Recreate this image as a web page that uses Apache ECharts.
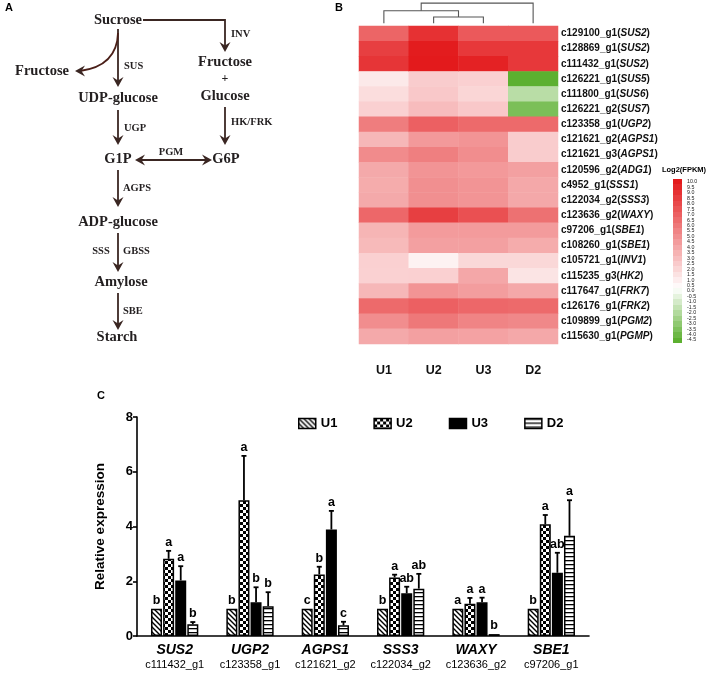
<!DOCTYPE html>
<html><head><meta charset="utf-8">
<script src="https://cdn.jsdelivr.net/npm/echarts@6/dist/echarts.min.js"></script>
<style>html,body{margin:0;padding:0;background:#fff}#c{width:708px;height:674px}</style>
</head><body><div id="c"></div>
<script>
// ---------- Panel B data (heatmap, Log2 FPKM) ----------
const heatCols = ['U1', 'U2', 'U3', 'D2'];
const rowIds = ['c129100_g1','c128869_g1','c111432_g1','c126221_g1','c111800_g1','c126221_g2','c123358_g1','c121621_g2','c121621_g3','c120596_g2','c4952_g1','c122034_g2','c123636_g2','c97206_g1','c108260_g1','c105721_g1','c115235_g3','c117647_g1','c126176_g1','c109899_g1','c115630_g1'];
const rowGenes = ['SUS2','SUS2','SUS2','SUS5','SUS6','SUS7','UGP2','AGPS1','AGPS1','ADG1','SSS1','SSS3','WAXY','SBE1','SBE1','INV1','HK2','FRK7','FRK2','PGM2','PGMP'];
const valU1 = [6.8, 8.4, 8.85, 1.2, 1.7, 2.25, 5.8, 3.3, 5.2, 3.9, 3.8, 3.9, 6.7, 3.4, 3.2, 2.25, 2.2, 3.3, 6.6, 5.1, 3.9];
const valU2 = [9.0, 9.9, 10.0, 2.4, 2.6, 3.1, 7.0, 4.6, 5.7, 4.8, 5.0, 5.0, 8.4, 4.5, 4.3, 0.8, 2.25, 4.8, 7.0, 6.0, 4.3];
const valU3 = [7.3, 8.7, 9.66, 2.25, 2.0, 2.6, 6.6, 4.8, 5.1, 4.6, 4.8, 4.8, 7.7, 4.5, 4.3, 1.9, 4.0, 4.4, 6.7, 5.5, 4.2];
const valD2 = [7.3, 8.7, 8.7, -4.5, -1.8, -3.6, 6.6, 2.4, 2.4, 4.3, 3.95, 3.95, 6.3, 4.5, 3.8, 1.9, 1.4, 3.95, 6.6, 5.3, 3.95];
const colorbarMin = -4.5, colorbarMax = 10.0, colorbarStep = 0.5;
// dendrogram merges: [leftPos, rightPos, height, leftChildHeight, rightChildHeight] (column units)
const dendro = [[1, 2, 1, 0, 0], [0, 1.5, 2, 0, 1], [0.75, 3, 3.2, 2, 0]];

// ---------- Panel C data (relative expression) ----------
const geneNames = ['SUS2','UGP2','AGPS1','SSS3','WAXY','SBE1'];
const geneIds = ['c111432_g1','c123358_g1','c121621_g2','c122034_g2','c123636_g2','c97206_g1'];
const groups = ['U1','U2','U3','D2'];
const meanU1 = [1.0, 1.0, 1.0, 1.0, 1.0, 1.0];
const meanU2 = [2.82, 4.96, 2.25, 2.14, 1.18, 4.08];
const meanU3 = [2.03, 1.23, 3.89, 1.56, 1.23, 2.31];
const meanD2 = [0.43, 1.09, 0.39, 1.73, 0.07, 3.66];
const errU1 = [1.0, 1.0, 1.0, 1.0, 1.0, 1.0];
const errU2 = [3.11, 6.58, 2.53, 2.24, 1.39, 4.42];
const errU3 = [2.55, 1.78, 4.57, 1.80, 1.40, 3.04];
const errD2 = [0.51, 1.60, 0.52, 2.27, 0.07, 4.96];
const letU1 = ['b','b','c','b','a','b'];
const letU2 = ['a','a','b','a','a','a'];
const letU3 = ['a','b','a','ab','a','ab'];
const letD2 = ['b','b','c','ab','b','a'];
const yTicks = [0, 2, 4, 6, 8];

// ---------- helpers ----------
function lerp(a, b, t) { return Math.round(a + (b - a) * t); }
function colorAt(v) {
  const g = [92, 176, 48], w = [255, 255, 255], r = [227, 26, 28];
  let c;
  if (v <= 0.25) { const t = (v - colorbarMin) / (0.25 - colorbarMin); c = g.map((x, i) => lerp(x, w[i], t)); }
  else { const t = (v - 0.25) / (colorbarMax - 0.25); c = w.map((x, i) => lerp(x, r[i], t)); }
  return 'rgb(' + c.join(',') + ')';
}
function palette() {
  const out = [];
  for (let v = colorbarMin; v <= colorbarMax + 1e-9; v += colorbarStep) out.push(colorAt(v));
  return out;
}
function colorbarStops() {
  const stops = [];
  const n = Math.round((colorbarMax - colorbarMin) / colorbarStep) + 1; // blocks
  for (let k = 0; k < n; k++) {
    const v = colorbarMax - k * colorbarStep;
    const c = colorAt(v);
    stops.push({ offset: k / n, color: c });
    stops.push({ offset: (k + 1) / n - 1e-4, color: c });
  }
  return stops;
}
function mkCanvas(w, h, draw) {
  const c = document.createElement('canvas'); c.width = w; c.height = h;
  const ctx = c.getContext('2d'); ctx.fillStyle = '#fff'; ctx.fillRect(0, 0, w, h); draw(ctx); return c;
}
const patDiag = mkCanvas(5, 5, ctx => {
  ctx.strokeStyle = '#000'; ctx.lineWidth = 1.4;
  ctx.beginPath(); ctx.moveTo(-1, -1); ctx.lineTo(6, 6); ctx.moveTo(-1, 4); ctx.lineTo(1, 6); ctx.moveTo(4, -1); ctx.lineTo(6, 1); ctx.stroke();
});
const patCheck = mkCanvas(6, 6, ctx => { ctx.fillStyle = '#000'; ctx.fillRect(0, 0, 3, 3); ctx.fillRect(3, 3, 3, 3); });
const patHoriz = mkCanvas(4, 4, ctx => { ctx.fillStyle = '#000'; ctx.fillRect(0, 0, 4, 1.3); });
const groupFill = [
  { image: patDiag, repeat: 'repeat' },
  { image: patCheck, repeat: 'repeat' },
  '#000',
  { image: patHoriz, repeat: 'repeat' }
];

// ---------- Panel A pathway diagram (graphic) ----------
const ink = '#3a2622', txt = '#231f20';
const serifB = '"Liberation Serif", "Times New Roman", serif';
function T(text, x, y, size) {
  return { type: 'text', style: { text, x, y, font: 'bold ' + size + 'px ' + serifB, fill: txt, align: 'center', verticalAlign: 'middle', textAlign: 'center', textVerticalAlign: 'middle' } };
}
function TL(text, x, y, size) {
  return { type: 'text', style: { text, x, y, font: 'bold ' + size + 'px ' + serifB, fill: txt, align: 'left', verticalAlign: 'middle', textAlign: 'left', textVerticalAlign: 'middle' } };
}
function line(x1, y1, x2, y2) { return { type: 'line', shape: { x1, y1, x2, y2 }, style: { stroke: ink, lineWidth: 1.8 } }; }
function headDown(x, y) { return { type: 'polygon', shape: { points: [[x, y], [x - 5.5, y - 10], [x, y - 6.5], [x + 5.5, y - 10]] }, style: { fill: ink } }; }
function headLeft(x, y) { return { type: 'polygon', shape: { points: [[x, y], [x + 10, y - 5.5], [x + 6.5, y], [x + 10, y + 5.5]] }, style: { fill: ink } }; }
function headRight(x, y) { return { type: 'polygon', shape: { points: [[x, y], [x - 10, y - 5.5], [x - 6.5, y], [x - 10, y + 5.5]] }, style: { fill: ink } }; }
function vArrow(x, y1, y2) { return [line(x, y1, x, y2 - 4), headDown(x, y2)]; }

const cx = 118;
const diagram = [].concat(
  [T('Sucrose', cx, 20, 14.5)],
  [{ type: 'polyline', shape: { points: [[143, 20], [225, 20], [225, 48]] }, style: { stroke: ink, lineWidth: 1.8, fill: null } }, headDown(225, 52)],
  [TL('INV', 231, 34, 10.5)],
  [T('Fructose', 225, 62, 14.5), T('+', 225, 79, 12), T('Glucose', 225, 96, 14.5)],
  vArrow(225, 107, 145), [TL('HK/FRK', 231, 122, 10.5)],
  [T('G6P', 226, 159, 14.5), T('G1P', cx, 159, 14.5)],
  [line(140, 160, 207, 160), headLeft(135, 160), headRight(212, 160), T('PGM', 171, 152, 10.5)],
  vArrow(cx, 29, 87), [TL('SUS', 124, 66, 10.5)],
  [{ type: 'bezierCurve', shape: { x1: cx, y1: 33, x2: 80, y2: 71, cpx1: 117, cpy1: 66 }, style: { stroke: '#4a1f18', lineWidth: 1.8, fill: null } }, headLeft(75, 71)],
  [T('Fructose', 42, 71, 14.5)],
  [T('UDP-glucose', cx, 98, 14.5)],
  vArrow(cx, 110, 145), [TL('UGP', 124, 128, 10.5)],
  vArrow(cx, 170, 207), [TL('AGPS', 123, 188, 10.5)],
  [T('ADP-glucose', cx, 222, 14.5)],
  vArrow(cx, 233, 272), [TL('GBSS', 123, 251, 10.5), T('SSS', 101, 251, 10.5)],
  [T('Amylose', 121, 282, 14.5)],
  vArrow(cx, 293, 330), [TL('SBE', 123, 311, 10.5)],
  [T('Starch', 117, 337, 14.5)]
);
const panelLetters = [
  { type: 'text', style: { text: 'A', x: 5, y: 8, font: 'bold 11px Arial, "Liberation Sans"', fill: '#000', verticalAlign: 'middle', textVerticalAlign: 'middle' } },
  { type: 'text', style: { text: 'B', x: 335, y: 8, font: 'bold 11px Arial, "Liberation Sans"', fill: '#000', verticalAlign: 'middle', textVerticalAlign: 'middle' } },
  { type: 'text', style: { text: 'C', x: 97, y: 396, font: 'bold 11px Arial, "Liberation Sans"', fill: '#000', verticalAlign: 'middle', textVerticalAlign: 'middle' } },
  { type: 'text', style: { text: 'Log2(FPKM)', x: 684, y: 170, font: 'bold 7.5px Arial, "Liberation Sans"', fill: '#000', align: 'center', textAlign: 'center', verticalAlign: 'middle', textVerticalAlign: 'middle' } },
  { type: 'rect', shape: { x: 673, y: 179, width: 9, height: 164 },
    style: { fill: { type: 'linear', x: 0, y: 0, x2: 0, y2: 1, colorStops: colorbarStops() } } }
];

// ---------- build data ----------
const heatVals = [valU1, valU2, valU3, valD2];
const heatData = [];
heatVals.forEach((arr, ci) => arr.forEach((v, ri) => heatData.push([ci, ri, v])));
const rowLabels = rowIds.map((id, i) => id + '(' + rowGenes[i] + ')');
const means = [meanU1, meanU2, meanU3, meanD2];
const errs = [errU1, errU2, errU3, errD2];
const lets = [letU1, letU2, letU3, letD2];
const barW = 11, barGapPx = 1.1;

const series = [];
series.push({
  type: 'heatmap', xAxisIndex: 0, yAxisIndex: 0, data: heatData,
  itemStyle: { borderWidth: 0 }, emphasis: { disabled: true }
});
series.push({
  type: 'custom', xAxisIndex: 0, yAxisIndex: 0, silent: true,
  data: dendro,
  renderItem: function (params, api) {
    const d = dendro[params.dataIndex];
    const x0 = api.coord([0, 0])[0], x1 = api.coord([1, 0])[0];
    const px = v => x0 + (x1 - x0) * v;
    const base = params.coordSys.y - 2.7, unit = 6.3;
    const py = h => base - h * unit;
    return {
      type: 'polyline',
      shape: { points: [[px(d[0]), py(d[3])], [px(d[0]), py(d[2])], [px(d[1]), py(d[2])], [px(d[1]), py(d[4])]] },
      style: { stroke: '#555', lineWidth: 1.1, fill: null }
    };
  }
});
groups.forEach((g, gi) => {
  series.push({
    name: g, type: 'bar', xAxisIndex: 1, yAxisIndex: 1, data: means[gi],
    barWidth: barW, barGap: '10%',
    itemStyle: { color: groupFill[gi], borderColor: '#000', borderWidth: 1.5 },
    emphasis: { disabled: true }
  });
});
groups.forEach((g, gi) => {
  const off = (gi - 1.5) * (barW + barGapPx);
  series.push({
    type: 'custom', xAxisIndex: 1, yAxisIndex: 1, silent: true,
    data: means[gi].map((m, i) => [i, m, errs[gi][i]]),
    renderItem: function (params, api) {
      const i = api.value(0), m = api.value(1), e = api.value(2);
      const xc = api.coord([i, 0])[0] + off;
      const ym = api.coord([i, m])[1], ye = api.coord([i, e])[1];
      const ch = [];
      if (ye < ym - 0.5) {
        ch.push({ type: 'line', shape: { x1: xc, y1: ym, x2: xc, y2: ye }, style: { stroke: '#000', lineWidth: 1.8 } });
        ch.push({ type: 'line', shape: { x1: xc - 2.5, y1: ye, x2: xc + 2.5, y2: ye }, style: { stroke: '#000', lineWidth: 1.8 } });
      }
      ch.push({ type: 'text', style: { text: lets[gi][i], x: xc, y: ye - 2, font: 'bold 12.5px Arial, "Liberation Sans"', fill: '#000', align: 'center', textAlign: 'center', verticalAlign: 'bottom', textVerticalAlign: 'bottom' } });
      return { type: 'group', children: ch };
    }
  });
});

const option = {
  animation: false,
  backgroundColor: '#fff',
  textStyle: { fontFamily: 'Arial, "Liberation Sans", sans-serif' },
  graphic: { elements: diagram.concat(panelLetters) },
  grid: [
    { left: 359, top: 26, width: 199, height: 318 },
    { left: 137, top: 417, width: 452, height: 219 },
    { left: 673, top: 182, width: 9, height: 158 }
  ],
  xAxis: [
    { type: 'category', gridIndex: 0, data: heatCols, position: 'bottom',
      axisLine: { show: false }, axisTick: { show: false }, splitArea: { show: false },
      axisLabel: { margin: 20, fontSize: 12.5, fontWeight: 'bold', color: '#111' } },
    { type: 'category', gridIndex: 1, data: geneNames,
      axisLine: { lineStyle: { color: '#000', width: 1.6 } },
      axisTick: { alignWithLabel: true, length: 5, lineStyle: { color: '#000', width: 1.6 } },
      axisLabel: { margin: 6, interval: 0,
        formatter: (v, idx) => '{g|' + v + '}\n{i|' + geneIds[idx] + '}',
        rich: { g: { fontSize: 14, fontWeight: 'bold', fontStyle: 'italic', color: '#000', lineHeight: 16 },
                i: { fontSize: 11, color: '#000', lineHeight: 14 } } } },
    { type: 'value', gridIndex: 2, show: false }
  ],
  yAxis: [
    { type: 'category', gridIndex: 0, data: rowLabels, inverse: true, position: 'right',
      axisLine: { show: false }, axisTick: { show: false },
      axisLabel: { margin: 3, interval: 0,
        formatter: (v, idx) => '{a|' + rowIds[idx] + '(}{i|' + rowGenes[idx] + '}{a|)}',
        rich: { a: { fontSize: 10, fontWeight: 'bold', color: '#111' },
                i: { fontSize: 10, fontWeight: 'bold', fontStyle: 'italic', color: '#111' } } } },
    { type: 'value', gridIndex: 1, min: 0, max: 8, interval: 2,
      name: 'Relative expression', nameLocation: 'middle', nameGap: 30,
      nameTextStyle: { fontSize: 13.5, fontWeight: 'bold', color: '#000' },
      axisLine: { show: true, lineStyle: { color: '#000', width: 1.6 } },
      axisTick: { show: true, length: 4, lineStyle: { color: '#000', width: 1.6 } },
      splitLine: { show: false },
      axisLabel: { fontSize: 13, fontWeight: 'bold', color: '#000', margin: 4,
        formatter: v => (yTicks.indexOf(v) >= 0 ? String(v) : '') } },
    { type: 'value', gridIndex: 2, min: colorbarMin, max: colorbarMax, interval: colorbarStep, position: 'right',
      axisLine: { show: false }, axisTick: { show: false }, splitLine: { show: false },
      axisLabel: { fontSize: 5.3, lineHeight: 4, color: '#222', margin: 5, showMinLabel: null, showMaxLabel: null, hideOverlap: false,
        formatter: v => v.toFixed(1) } }
  ],
  visualMap: {
    type: 'continuous', show: false, seriesIndex: 0, min: colorbarMin, max: colorbarMax,
    inRange: { color: palette() }
  },
  legend: {
    data: groups, left: 293, top: 412, itemWidth: 17, itemHeight: 10, itemGap: 36, icon: 'rect',
    textStyle: { fontSize: 13, fontWeight: 'bold', color: '#000' },
    itemStyle: { borderColor: '#000', borderWidth: 1.5 }
  },
  series: series
};

const chart = echarts.init(document.getElementById('c'), null, { renderer: 'canvas' });
chart.setOption(option);
</script>
</body></html>
